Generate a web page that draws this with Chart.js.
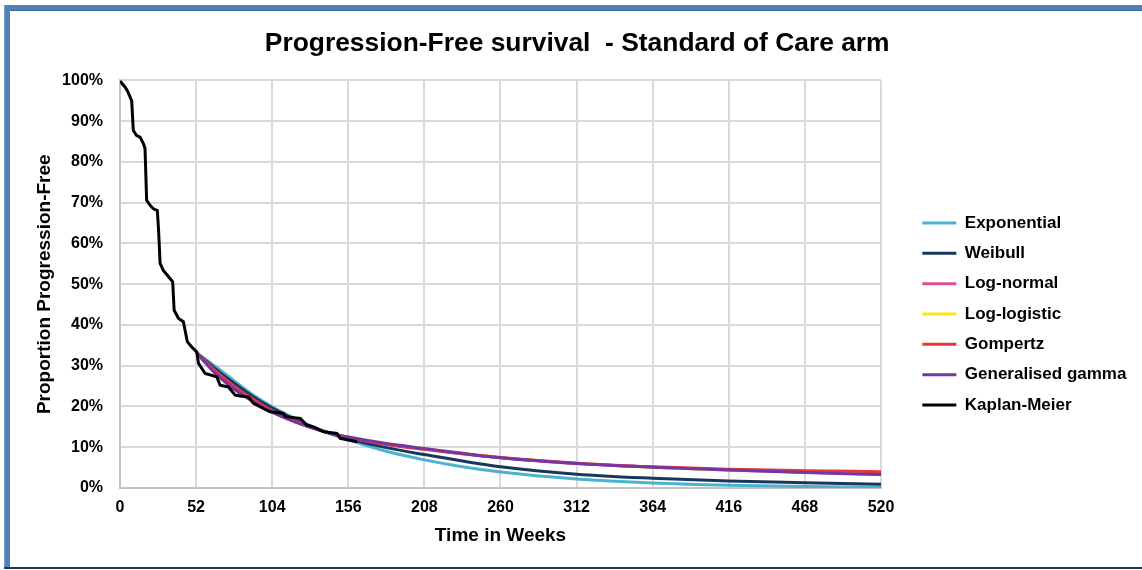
<!DOCTYPE html>
<html>
<head>
<meta charset="utf-8">
<title>Progression-Free survival - Standard of Care arm</title>
<script src="https://cdn.jsdelivr.net/npm/chart.js@4.4.1/dist/chart.umd.min.js"></script>
<style>
  html, body { margin: 0; padding: 0; background: #ffffff; }
  .frame { position: absolute; }
  #frameTop { left: 4px; top: 5px; width: 1138px; height: 6px; background: #4F81BD; box-shadow: inset 0 -1px 0 #3A6699; }
  #frameLeft { left: 4px; top: 5px; width: 6px; height: 563px; background: #4F81BD; box-shadow: inset 1px 0 0 #7FA3D0; }
  #frameBottom { left: 4px; top: 567px; width: 1138px; height: 2px; background: #1F3A60; }
  #wrap { position: absolute; left: 0; top: 0; width: 1142px; height: 570px; }
</style>
</head>
<body>
<div class="frame" id="frameTop"></div>
<div class="frame" id="frameLeft"></div>
<div class="frame" id="frameBottom"></div>
<div id="wrap"><canvas id="pfs" width="1142" height="570"></canvas></div>
<script>
// Axis ticks
const weekTicks = [0, 52, 104, 156, 208, 260, 312, 364, 416, 468, 520];
const pctTicks = [0, 10, 20, 30, 40, 50, 60, 70, 80, 90, 100];

// Kaplan-Meier estimate (weeks, % progression-free)
const kmWeeks = [0, 1.5, 3.4, 5, 6.5, 8, 8.6, 9.1, 11.4, 13.7, 16, 17.1, 18.2, 20.5, 22.8, 25.5, 26.4, 27.4,
  29.6, 34.2, 36, 37, 40, 43.3, 46, 49, 52.5, 53.6, 58.2, 66.1, 68.4, 74.1, 78.7, 82.1, 87.8, 91.2,
  98, 102.6, 111.7, 112.9, 123.2, 127.7, 132.3, 139.2, 148.2, 150.5, 162];
const kmPct = [100, 99.2, 98.4, 97.5, 96.3, 95, 91, 87.7, 86.5, 86.1, 84.5, 83.3, 70.6, 69.4, 68.5, 68.1, 63, 55.1,
  53.4, 51.4, 50.6, 43.6, 41.6, 40.8, 35.9, 34.6, 33.4, 30.6, 28.1, 27.3, 25.2, 24.8, 22.8, 22.6, 22.3, 20.8,
  19.5, 18.7, 18.3, 17.5, 17.1, 15.4, 15.0, 13.8, 13.4, 12.2, 11.35];

// Parametric extrapolations (weeks, % progression-free)
const fitWeeks = [52, 65, 78, 91, 104, 117, 130, 143, 156, 182, 208, 234, 260, 312, 364, 416, 468, 520];
const exponentialPct = [33.3, 29.9, 26.3, 22.8, 19.9, 17.5, 15.3, 13.4, 11.8, 9.0, 6.9, 5.2, 3.9, 2.2, 1.2, 0.65, 0.35, 0.2];
const weibullPct     = [33.3, 29.3, 25.7, 22.4, 19.6, 17.2, 15.2, 13.5, 12.1, 9.9, 8.2, 6.6, 5.2, 3.4, 2.4, 1.7, 1.3, 0.95];
const logNormalPct   = [33.3, 28.3, 24.4, 21.3, 18.7, 16.6, 14.9, 13.5, 12.4, 10.8, 9.6, 8.4, 7.4, 6.0, 5.1, 4.4, 3.85, 3.4];
const logLogisticPct = [33.3, 28.4, 24.5, 21.4, 18.8, 16.7, 15.0, 13.6, 12.5, 10.9, 9.7, 8.5, 7.5, 6.1, 5.1, 4.45, 3.9, 3.5];
const gompertzPct    = [33.3, 28.8, 25.0, 21.8, 19.0, 16.8, 15.0, 13.5, 12.4, 10.7, 9.5, 8.4, 7.5, 6.1, 5.2, 4.6, 4.25, 4.0];
const genGammaPct    = [33.3, 28.2, 24.3, 21.2, 18.6, 16.6, 14.9, 13.5, 12.5, 10.9, 9.7, 8.5, 7.4, 6.0, 5.1, 4.4, 3.8, 3.3];

const toPoints = (xs, ys) => xs.map((x, i) => ({ x, y: ys[i] }));

const series = [
  { label: 'Exponential', color: '#4BB3CF', data: toPoints(fitWeeks, exponentialPct), smooth: true },
  { label: 'Weibull', color: '#17375E', data: toPoints(fitWeeks, weibullPct), smooth: true },
  { label: 'Log-normal', color: '#DC4F97', data: toPoints(fitWeeks, logNormalPct), smooth: true },
  { label: 'Log-logistic', color: '#FFE31A', data: toPoints(fitWeeks, logLogisticPct), smooth: true },
  { label: 'Gompertz', color: '#E8373C', data: toPoints(fitWeeks, gompertzPct), smooth: true },
  { label: 'Generalised gamma', color: '#7435A6', data: toPoints(fitWeeks, genGammaPct), smooth: true },
  { label: 'Kaplan-Meier', color: '#000000', data: toPoints(kmWeeks, kmPct), smooth: false }
];

const datasets = series.map((s, i) => ({
  label: s.label,
  data: s.data,
  borderColor: s.color,
  backgroundColor: s.color,
  borderWidth: 3,
  pointRadius: 0,
  pointHoverRadius: 0,
  fill: false,
  cubicInterpolationMode: s.smooth ? 'monotone' : 'default',
  tension: 0,
  xAxisID: 'x',
  yAxisID: 'y',
  // later series are painted on top, Kaplan-Meier last
  order: series.length - 1 - i
}));

Chart.defaults.font.family = "'Liberation Sans', Arial, sans-serif";
Chart.defaults.color = '#000000';

new Chart(document.getElementById('pfs'), {
  type: 'line',
  data: { datasets },
  options: {
    responsive: false,
    animation: false,
    events: [],
    layout: { padding: { left: 18, right: 5.6, top: 27.4, bottom: -30.6 } },
    plugins: {
      title: {
        display: true,
        text: 'Progression-Free survival  - Standard of Care arm',
        color: '#000000',
        font: { size: 26.4, weight: 'bold' },
        padding: { top: 0, bottom: 21.4 }
      },
      legend: {
        position: 'right',
        align: 'center',
        maxWidth: 400,
        labels: {
          usePointStyle: true,
          pointStyle: 'line',
          pointStyleWidth: 34,
          padding: 13.33,
          color: '#000000',
          font: { size: 17, weight: 'bold' },
          sort: (a, b) => a.datasetIndex - b.datasetIndex
        }
      },
      tooltip: { enabled: false }
    },
    scales: {
      x: {
        type: 'linear',
        position: 'bottom',
        min: 0,
        max: 520,
        afterBuildTicks: (scale) => { scale.ticks = weekTicks.map(v => ({ value: v })); },
        afterFit: (scale) => { scale.height = 112.6; },
        grid: { color: '#D9D9D9', lineWidth: 2, drawTicks: false },
        border: { color: '#C4C4C4', width: 2 },
        ticks: { padding: 10, color: '#000000', font: { size: 16, weight: 'bold' }, maxRotation: 0 },
        title: {
          display: true,
          text: 'Time in Weeks',
          color: '#000000',
          font: { size: 19, weight: 'bold' },
          padding: { top: 0, bottom: 53.2 }
        }
      },
      y: {
        type: 'linear',
        position: 'left',
        min: 0,
        max: 100,
        afterBuildTicks: (scale) => { scale.ticks = pctTicks.map(v => ({ value: v })); },
        afterFit: (scale) => { scale.width = 102; },
        grid: { color: '#D9D9D9', lineWidth: 2, drawTicks: false },
        border: { color: '#C4C4C4', width: 2 },
        ticks: { padding: 17, color: '#000000', font: { size: 16, weight: 'bold' }, callback: (v) => v + '%' },
        title: {
          display: true,
          text: 'Proportion Progression-Free',
          color: '#000000',
          font: { size: 19, weight: 'bold' },
          padding: { top: 15.6, bottom: 0 }
        }
      },
      legendGap: {
        type: 'linear',
        position: 'right',
        display: true,
        grid: { display: false },
        border: { display: false },
        ticks: { display: false },
        afterFit: (scale) => { scale.width = 28; }
      }
    }
  }
});
</script>
</body>
</html>
